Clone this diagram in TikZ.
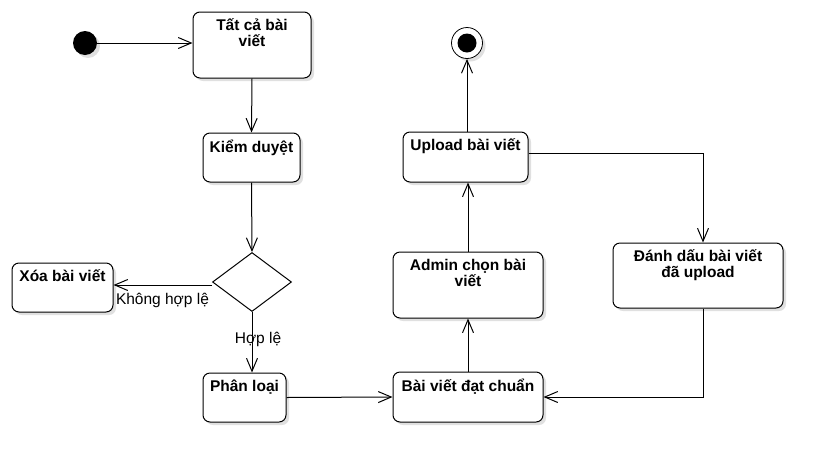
\documentclass[tikz,border=0pt]{standalone}
\usepackage{fontspec}
\setmainfont{Liberation Sans}
\usepackage{tikz}
\usetikzlibrary{arrows.meta}
\usetikzlibrary{shapes.geometric}
\usetikzlibrary{shadows}
\usetikzlibrary{calc}

\tikzset{
  shade box/.style={drop shadow={shadow xshift=3pt,shadow yshift=-3pt,fill=black,opacity=0.12}},
  act/.style={draw,rounded corners=7pt,line width=1pt,fill=white,shade box},
  acttext/.style={font=\bfseries\fontsize{15.5}{16}\selectfont,align=center,anchor=north,inner sep=0pt},
  guard/.style={font=\fontsize{15.5}{16}\selectfont,inner sep=0pt},
  flow/.style={line width=1pt,-{Straight Barb[length=13pt,width=11pt,line width=1pt]}},
  wire/.style={line width=1pt}
}

\begin{document}
\begin{tikzpicture}[x=1pt,y=-1pt]
\useasboundingbox (0,0) rectangle (832,472);

% start / end
\node[circle,fill=black,minimum size=24pt,inner sep=0pt,shade box] (start) at (85,43) {};
\node[circle,draw,line width=0.8pt,fill=white,minimum size=31pt,inner sep=0pt,shade box] (stop) at (467,43) {};
\node[circle,fill=black,minimum size=19pt,inner sep=0pt] (stopdot) at (stop) {};

% activities
\node[act,minimum width=118pt,minimum height=66pt] (tatca) at (252,45) {};
\node[acttext] (tatcaT) at ([yshift=-7pt]tatca.north) {Tất cả bài\\viết};

\node[act,minimum width=97pt,minimum height=49pt] (kiem) at (251.5,157.5) {};
\node[acttext] (kiemT) at ([yshift=-7pt]kiem.north) {Kiểm duyệt};

\node[draw,diamond,line width=1pt,fill=white,minimum width=79pt,minimum height=59pt,inner sep=0pt] (dia) at (252,282) {};

\node[act,minimum width=101pt,minimum height=49pt] (xoa) at (62.5,287.5) {};
\node[acttext] (xoaT) at ([yshift=-7pt]xoa.north) {Xóa bài viết};

\node[act,minimum width=83pt,minimum height=49pt] (phan) at (244.5,397.5) {};
\node[acttext] (phanT) at ([yshift=-7pt]phan.north) {Phân loại};

\node[act,minimum width=150pt,minimum height=50pt] (dat) at (468,397) {};
\node[acttext] (datT) at ([yshift=-7pt]dat.north) {Bài viết đạt chuẩn};

\node[act,minimum width=150pt,minimum height=66pt] (admin) at (468,285) {};
\node[acttext] (adminT) at ([yshift=-7pt]admin.north) {Admin chọn bài\\viết};

\node[act,minimum width=125pt,minimum height=50pt] (upl) at (465.5,157) {};
\node[acttext] (uplT) at ([yshift=-7pt]upl.north) {Upload bài viết};

\node[act,minimum width=170pt,minimum height=65pt] (danh) at (698,275.5) {};
\node[acttext] (danhT) at ([yshift=-7pt]danh.north) {Đánh dấu bài viết\\đã upload};

% flows
\draw[flow] (start.east) -- (start.east -| tatca.west);
\draw[flow] (tatca.south) -- (kiem.north);
\draw[flow] (kiem.south) -- (dia.north);
\draw[flow] ([yshift=-3pt]dia.west) -- ([yshift=-3pt]dia.west -| xoa.east)
  node[guard,anchor=north west,pos=1,xshift=2pt,yshift=-8pt] (khong) {Không hợp lệ};
\draw[flow] (dia.south) -- (dia.south |- phan.north)
  node[guard,pos=0.46,xshift=6pt] (hople) {Hợp lệ};
\draw[flow] (phan.east) -- (dat.west);
\draw[flow] (dat.north) -- (admin.south);
\draw[flow] (admin.north) -- (admin.north |- upl.south);
\draw[flow] (upl.north -| stop) -- (stop.south);
\draw[flow] ([yshift=4pt]upl.east) -| ([xshift=5pt]danh.north);
\draw[flow] ([xshift=5pt]danh.south) |- (dat.east);

\end{tikzpicture}
\end{document}
